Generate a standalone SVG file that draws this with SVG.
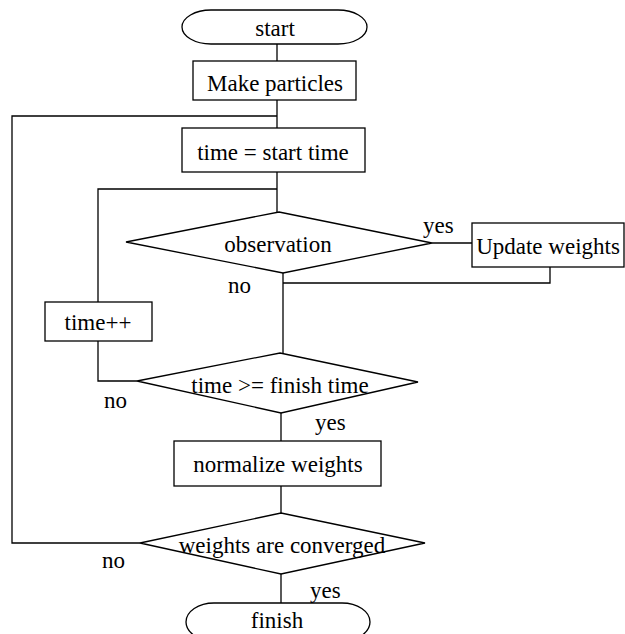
<svg xmlns="http://www.w3.org/2000/svg" width="625" height="634" viewBox="0 0 625 634">
<style>
.s{fill:#fff;stroke:#000;stroke-width:1.3}
.c{fill:none;stroke:#000;stroke-width:1.3}
text{font-family:"Liberation Serif","Times New Roman",serif;font-size:23px;fill:#000}
.m{text-anchor:middle}
</style>
<rect width="625" height="634" fill="#fff"/>
<g id="connectors">
<line class="c" x1="277" y1="44" x2="277" y2="61"/>
<line class="c" x1="277" y1="100" x2="277" y2="128"/>
<polyline class="c" points="277,116 12,116 12,543 140,543"/>
<line class="c" x1="277" y1="172" x2="277" y2="212"/>
<polyline class="c" points="277,189 98,189 98,302"/>
<polyline class="c" points="98,341 98,381 137,381"/>
<line class="c" x1="432" y1="243" x2="472" y2="243"/>
<polyline class="c" points="550,267 550,283 283,283"/>
<line class="c" x1="283" y1="273" x2="283" y2="353"/>
<line class="c" x1="281" y1="413" x2="281" y2="441"/>
<line class="c" x1="281" y1="486" x2="281" y2="513"/>
<line class="c" x1="281" y1="574" x2="281" y2="603"/>
</g>
<g id="start">
<rect class="s" x="182" y="10" width="185" height="34" rx="29" ry="17"/>
<text class="m" x="275" y="36">start</text>
</g>
<g id="make-particles">
<rect class="s" x="193" y="61" width="163" height="39"/>
<text class="m" x="275" y="91">Make particles</text>
</g>
<g id="time-start">
<rect class="s" x="182" y="128" width="183" height="44"/>
<text class="m" x="273" y="160">time = start time</text>
</g>
<g id="observation">
<polygon class="s" points="279,212 432,243 283,273 126,242"/>
<text class="m" x="278" y="252">observation</text>
<text x="423" y="233">yes</text>
<text x="228" y="293">no</text>
</g>
<g id="update-weights">
<rect class="s" x="472" y="223" width="152" height="44"/>
<text class="m" x="548" y="254">Update weights</text>
</g>
<g id="time-inc">
<rect class="s" x="45" y="302" width="107" height="39"/>
<text class="m" x="98" y="330">time++</text>
</g>
<g id="time-check">
<polygon class="s" points="280,353 418,382 281,413 137,381"/>
<text class="m" x="280" y="393">time &gt;= finish time</text>
<text x="104" y="408">no</text>
<text x="315" y="430">yes</text>
</g>
<g id="normalize">
<rect class="s" x="174" y="441" width="207" height="45"/>
<text class="m" x="278" y="472">normalize weights</text>
</g>
<g id="converged">
<polygon class="s" points="281,513 425,543 281,574 140,543"/>
<text class="m" x="282" y="553">weights are converged</text>
<text x="102" y="568">no</text>
<text x="310" y="598">yes</text>
</g>
<g id="finish">
<rect class="s" x="186" y="603" width="184" height="38" rx="28" ry="19"/>
<text class="m" x="277" y="628">finish</text>
</g>
</svg>
